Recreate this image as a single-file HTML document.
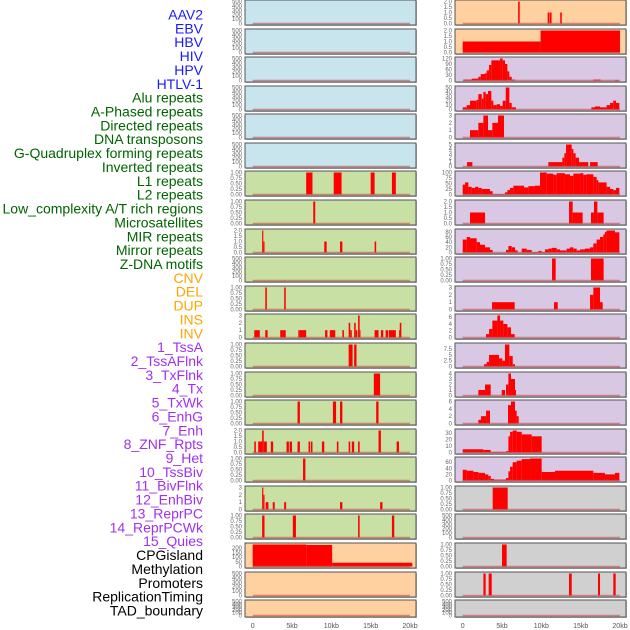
<!DOCTYPE html>
<html><head><meta charset="utf-8"><style>
body{margin:0;background:#fff;width:630px;height:630px;overflow:hidden}
svg{display:block}
</style></head><body>
<svg id="chart" width="630" height="630" xmlns="http://www.w3.org/2000/svg"></svg>
<script>
const trackLabels=["AAV2","EBV","HBV","HIV","HPV","HTLV-1","Alu repeats","A-Phased repeats","Directed repeats","DNA transposons","G-Quadruplex forming repeats","Inverted repeats","L1 repeats","L2 repeats","Low_complexity A/T rich regions","Microsatellites","MIR repeats","Mirror repeats","Z-DNA motifs","CNV","DEL","DUP","INS","INV","1_TssA","2_TssAFlnk","3_TxFlnk","4_Tx","5_TxWk","6_EnhG","7_Enh","8_ZNF_Rpts","9_Het","10_TssBiv","11_BivFlnk","12_EnhBiv","13_ReprPC","14_ReprPCWk","15_Quies","CPGisland","Methylation","Promoters","ReplicationTiming","TAD_boundary"];
const labelGroups=[6,13,5,15,5];
const groupColors=["#1a1aff","#006400","#ffa500","#a030f0","#000000"];
const xTickValues=[0,5,10,15,20];
const xTickLabels=["0","5kb","10kb","15kb","20kb"];
const T500=[0,100,200,300,400,500], T1=[0,0.25,0.5,0.75,1], T2=[0,0.5,1,1.5,2], T3=[0,1,2,3];
const leftTicks=[T500,T500,T500,T500,T500,T500,T1,T1,T2,T500,T1,[0,1,2,3],T1,T1,T1,T2,T1,T3,T1,[0,50,100,150,200],T500,T500];
const rightTicks=[T2,T2,[0,30,60,90,120],[0,10,20,30,40,50],T3,[0,1,2,3,4,5],[0,25,50,75,100],T2,[0,20,40,60,80],T1,T3,[0,2,4,6],[0,2.5,5,7.5],[0,1,2,3,4],[0,2,4,6],[0,10,20,30],[0,20,40,60],T1,T500,T1,T1,T500];
const leftFills=["#c8e4ec","#c8e4ec","#c8e4ec","#c8e4ec","#c8e4ec","#c8e4ec","#c8e0a4","#c8e0a4","#c8e0a4","#c8e0a4","#c8e0a4","#c8e0a4","#c8e0a4","#c8e0a4","#c8e0a4","#c8e0a4","#c8e0a4","#c8e0a4","#c8e0a4","#ffd0a0","#ffd0a0","#ffd0a0"];
const rightFills=["#ffd0a0","#ffd0a0","#d8c8e4","#d8c8e4","#d8c8e4","#d8c8e4","#d8c8e4","#d8c8e4","#d8c8e4","#d8c8e4","#d8c8e4","#d8c8e4","#d8c8e4","#d8c8e4","#d8c8e4","#d8c8e4","#d8c8e4","#d0d0d0","#d0d0d0","#d0d0d0","#d0d0d0","#d0d0d0"];
// segments: [startKb, endKb, value]
const leftSegs=[[],[],[],[],[],[],
[[6.8,7.6,1],[10.3,11.3,1],[15.0,15.5,1],[17.7,18.2,1]],
[[7.7,7.95,1]],
[[1.2,1.35,2],[1.35,1.5,1],[9.1,9.4,1],[11.1,11.4,1],[15.5,15.7,1]],
[],
[[1.6,1.8,1],[4.0,4.2,1]],
[[0.2,0.9,1],[1.6,1.9,1],[3.5,3.8,1],[3.8,4.2,1],[5.8,6.0,1],[6.0,6.8,1],[9.2,9.5,1],[9.8,10.5,1],[11.4,11.6,1],[12.2,12.4,2],[12.4,12.6,1],[12.9,13.1,2],[13.1,13.3,1],[13.4,13.6,3],[13.6,13.7,1],[15.5,16.0,1],[16.3,16.6,1],[16.9,17.2,1],[17.3,18.2,1],[18.6,18.7,1],[18.7,18.9,2]],
[[12.2,12.7,1],[12.9,13.2,1]],
[[15.4,16.2,1]],
[[5.7,6.0,1],[10.2,10.6,1],[11.1,11.4,1],[15.7,16.0,1]],
[[0.2,0.4,1],[0.7,1.2,1],[1.2,1.4,2],[1.4,1.8,1],[2.3,2.6,1],[4.3,4.6,1],[4.7,5.0,1],[5.7,6.0,1],[7.1,7.3,1],[7.4,7.6,1],[8.8,9.1,1],[10.7,10.9,1],[12.2,12.4,1],[12.6,12.9,1],[13.4,13.6,1],[16.0,16.3,2],[18.3,18.6,1]],
[[6.4,6.7,1]],
[[1.2,1.35,3],[1.35,1.5,2],[1.65,2.0,1],[2.55,2.8,1],[4.0,4.25,1],[11.1,11.4,1],[16.2,16.5,1]],
[[1.2,1.5,1],[5.1,5.5,1],[13.4,13.6,1],[17.7,18.0,1]],
[[0,6.8,235],[6.8,10.1,230],[10.1,20.3,40]],
[],[]];
const rightSegs=[
[[7.05,7.25,2],[10.8,11.0,1],[11.05,11.3,1],[12.4,12.6,1]],
[[0,9.9,1],[9.9,20,2]],
[[0.08,1.14,5],[1.14,1.99,10],[1.99,2.29,20],[2.29,2.84,35],[2.84,3.05,40],[3.05,3.35,55],[3.35,3.64,85],[3.64,4.75,110],[4.75,5.08,120],[5.08,5.38,110],[5.38,5.68,90],[5.68,5.93,50],[5.93,6.23,20],[6.23,6.65,5],[16.6,17.54,5],[19.36,19.79,3]],
[[0,0.5,5],[0.5,0.93,10],[0.93,1.78,20],[1.78,1.99,22],[1.99,2.42,35],[2.42,2.63,25],[2.63,2.92,40],[2.92,3.22,35],[3.22,3.64,42],[3.64,3.9,20],[3.9,4.32,10],[4.32,4.75,12],[4.75,5.08,8],[5.08,5.47,20],[5.47,5.93,50],[5.93,6.23,15],[6.23,6.78,5],[16.36,16.82,5],[16.82,17.46,7],[17.46,18.3,5],[18.3,18.73,10],[18.73,19.15,15],[19.15,19.49,20],[19.49,19.92,15]],
[[0.93,1.99,1],[1.99,2.63,2],[2.63,3.22,3],[3.22,3.77,1],[3.77,4.49,2],[4.49,5.25,3]],
[[0.55,1.23,1],[10.89,12.67,1],[12.67,12.92,2],[12.92,13.14,3],[13.14,13.86,5],[13.86,14.07,4],[14.07,14.36,3],[14.36,14.79,2],[14.79,15.97,1],[16.19,17.16,1]],
[[0,0.3,45],[0.3,0.72,55],[0.72,1.14,35],[1.14,1.57,30],[1.57,1.99,35],[1.99,2.42,30],[2.42,3.47,25],[3.47,3.81,15],[3.81,5.38,2],[5.38,5.68,10],[5.68,6.02,20],[6.02,6.44,30],[6.44,7.8,40],[7.8,8.35,32],[8.35,9.19,38],[9.19,9.83,40],[9.83,10.68,100],[10.68,11.53,95],[11.53,11.95,90],[11.95,13.0,97],[13.0,13.64,92],[13.64,14.07,85],[14.07,14.92,95],[14.92,15.34,97],[15.34,15.76,90],[15.76,16.61,92],[16.61,17.03,80],[17.03,17.25,65],[17.25,18.3,55],[18.3,18.73,35],[18.73,19.15,25],[19.15,19.49,20],[19.49,19.92,30]],
[[0.93,2.84,1],[13.52,13.98,2],[13.98,15.25,1],[16.31,16.69,1],[16.69,17.12,2],[17.12,17.92,1]],
[[0,0.51,50],[0.51,0.93,60],[0.93,1.78,55],[1.78,2.2,40],[2.2,2.84,30],[2.84,3.47,20],[3.47,3.81,10],[5.51,5.81,10],[5.81,6.23,25],[6.23,6.65,20],[6.65,6.99,8],[7.5,8.14,15],[8.14,8.77,10],[8.77,9.62,2],[9.62,10.04,6],[10.04,10.47,2],[10.47,10.89,12],[10.89,11.31,15],[11.31,11.95,18],[11.95,12.37,12],[12.37,13.22,8],[13.22,13.64,15],[13.64,14.07,20],[14.07,14.49,15],[14.49,14.92,8],[14.92,15.55,12],[15.55,16.19,15],[16.19,16.61,20],[16.61,17.03,35],[17.03,17.46,50],[17.46,17.88,60],[17.88,18.09,70],[18.09,18.3,80],[18.3,19.36,85],[19.36,19.92,78]],
[[11.36,11.82,1],[16.31,17.92,1]],
[[3.73,6.61,1],[11.61,12.08,1],[16.19,16.61,2],[16.61,17.46,3],[17.46,17.8,1]],
[[2.97,3.35,1],[3.35,3.77,2.5],[3.77,4.41,5],[4.41,4.75,6.5],[4.75,5.17,5],[5.17,5.68,4],[5.68,6.14,3],[6.14,6.61,1]],
[[2.71,3.05,1],[3.05,3.35,2],[3.35,4.62,5],[4.62,5.04,3.5],[5.04,5.38,2.5],[5.38,5.93,9.5],[5.93,6.36,4.5],[6.36,6.65,1]],
[[1.99,2.84,1],[2.84,3.56,2],[4.96,5.38,1],[5.51,5.81,2],[5.81,6.14,4],[6.14,6.65,3],[6.65,6.78,1]],
[[1.99,2.33,1],[2.33,2.97,2],[2.97,3.47,3.5],[5.76,6.14,5],[6.14,6.65,6],[6.65,6.86,3.5],[6.86,7.12,2]],
[[0,2.63,5],[2.63,3.56,4],[3.56,5.51,1],[5.51,5.81,2],[5.81,6.02,25],[6.02,6.36,32],[6.36,6.86,34],[6.86,7.5,32],[7.5,8.77,28],[8.77,10.04,25]],
[[0,0.51,35],[0.51,1.36,32],[1.36,1.99,28],[1.99,2.84,25],[2.84,3.26,20],[3.26,3.56,15],[3.56,3.98,5],[3.98,5.51,3],[5.51,5.81,8],[5.81,6.02,30],[6.02,6.36,45],[6.36,6.86,60],[6.86,7.5,65],[7.5,8.56,70],[8.56,10.04,72],[10.04,11.74,28],[11.74,16.61,32],[16.61,18.09,25],[18.09,19.36,20],[19.36,19.92,25]],
[[3.81,5.72,1]],
[],
[[5.0,5.59,1]],
[[2.63,2.92,1],[3.3,3.69,1],[13.52,13.86,1],[17.2,17.46,1],[19.15,19.45,1]],
[]];

const NS="http://www.w3.org/2000/svg";
const svg=document.getElementById('chart');
function mk(tag,attrs,parent){const e=document.createElementNS(NS,tag);for(const k in attrs)e.setAttribute(k,attrs[k]);(parent||svg).appendChild(e);return e;}
function rowTop(i){return i<21?Math.round(i*28.58):600;}
function rowH(i){return i<21?25:17;}
const cols=[{left:245,right:416,x0:252.7,ticks:leftTicks,segs:leftSegs,fills:leftFills,name:'left'},
            {left:455,right:626,x0:462.7,ticks:rightTicks,segs:rightSegs,fills:rightFills,name:'right'}];
const KB=7.865;
cols.forEach(c=>{
  const xs=kb=>c.x0+kb*KB;
  for(let i=0;i<22;i++){
    const top=rowTop(i),h=rowH(i),bot=top+h;
    const g=mk('g',{});
    
    
    mk('rect',{x:c.left+1,y:top+1,width:c.right-c.left,height:h,fill:'#bbb'},g);
    mk('rect',{x:c.left,y:top,width:c.right-c.left,height:h,fill:c.fills[i],stroke:'#555','stroke-width':1},g);
    const ticks=c.ticks[i];
    let vmax=ticks[ticks.length-1];
    c.segs[i].forEach(s=>{if(s[2]>vmax)vmax=s[2];});
    const ys=v=>bot-1.5-(v/vmax)*(h-3);
    c.segs[i].forEach(s=>{
      const r=mk('rect',{x:xs(s[0]),y:ys(s[2]),width:Math.max(0.8,xs(s[1])-xs(s[0])),height:ys(0)-ys(s[2]),fill:'#ff0000'},g);
      
      
    });
    const bl=mk('line',{x1:xs(0),x2:xs(20),y1:ys(0),y2:ys(0),stroke:'rgba(200,60,60,0.55)','stroke-width':1.6},g);
    
    
    ticks.forEach(t=>{
      const tx=mk('text',{x:c.left-3,y:ys(t)+2,'text-anchor':'end','font-size':6,fill:'#666','font-family':'Liberation Sans, sans-serif'},g);
      tx.textContent=(ticks===T1)?t.toFixed(2):(ticks===T2?t.toFixed(1):String(t));
      
      
    });
  }
  xTickValues.forEach((v,j)=>{
    const t=mk('text',{x:xs(v),y:628,'text-anchor':'middle','font-size':7,fill:'#555','font-family':'Liberation Sans, sans-serif'});
    t.textContent=xTickLabels[j];
    
    
  });
});
let idx=0;
labelGroups.forEach((n,gi)=>{
  for(let k=0;k<n;k++){
    const y=15+idx*13.86+4.5;
    const t=mk('text',{x:203,y:y,'text-anchor':'end','font-size':14,fill:groupColors[gi],'font-family':'Liberation Sans, sans-serif'});
    t.textContent=trackLabels[idx];
    
    
    idx++;
  }
});
</script>
</body></html>
